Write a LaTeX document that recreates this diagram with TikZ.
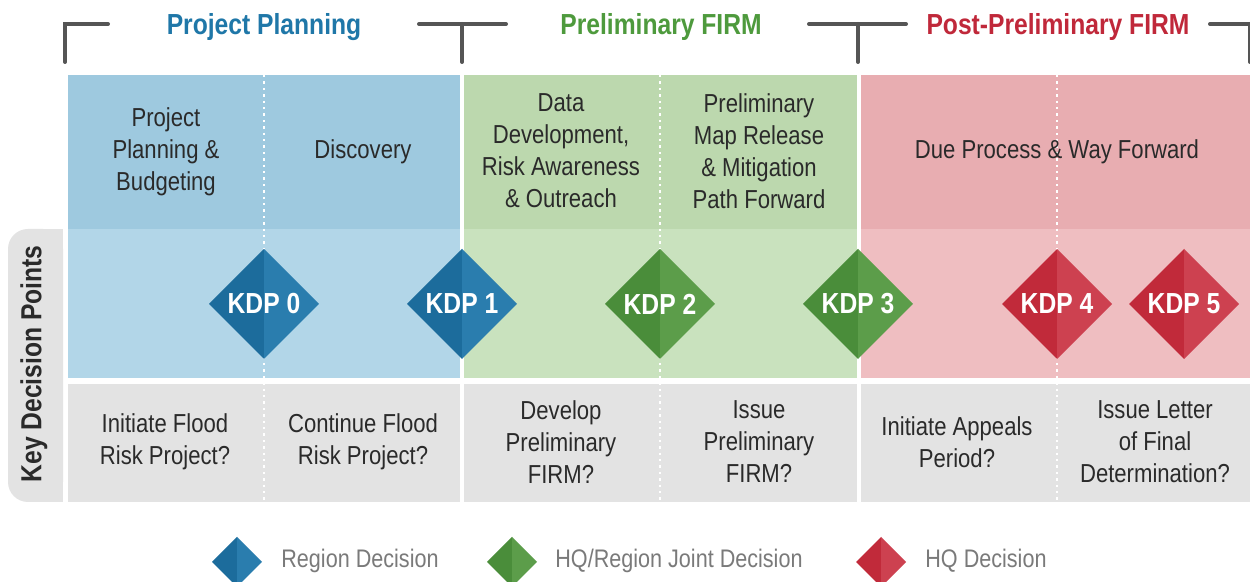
\documentclass[tikz,border=0pt]{standalone}
\usepackage{fontspec}
\setmainfont[FakeStretch=0.85]{Liberation Sans}
\definecolor{blueTop}{HTML}{9EC9DF}
\definecolor{blueBot}{HTML}{B2D6E8}
\definecolor{greenTop}{HTML}{BCD8AE}
\definecolor{greenBot}{HTML}{C9E2BE}
\definecolor{redTop}{HTML}{E8ADB1}
\definecolor{redBot}{HTML}{EFBEC1}
\definecolor{grayRow}{HTML}{E3E3E3}
\definecolor{txt}{HTML}{2A2A2A}
\definecolor{legtxt}{HTML}{7A7A7A}
\definecolor{brkc}{HTML}{555555}
\definecolor{bD}{HTML}{1C6C9C}
\definecolor{bL}{HTML}{2A7DAE}
\definecolor{gD}{HTML}{4A8D3A}
\definecolor{gL}{HTML}{5C9D4A}
\definecolor{rD}{HTML}{C12A3A}
\definecolor{rL}{HTML}{CD4150}
\definecolor{tBlue}{HTML}{1F77A8}
\definecolor{tGreen}{HTML}{4E9A3D}
\definecolor{tRed}{HTML}{C0283A}
\begin{document}
\begin{tikzpicture}[x=0.5pt,y=-0.5pt,
  brk/.style={draw=brkc,line width=2pt,line cap=round},
  dots/.style={draw=white,line width=1.3pt,dash pattern=on 1.2pt off 2pt},
  phase/.style={font=\fontsize{14.5}{17}\selectfont\bfseries,inner sep=0pt},
  body/.style={font=\fontsize{13}{16}\selectfont,text=txt,align=center,inner sep=0pt},
  kdptext/.style={font=\fontsize{14.5}{17}\selectfont\bfseries,text=white,inner sep=0pt},
  legend/.style={font=\fontsize{12.7}{15}\selectfont,text=legtxt,anchor=west,inner sep=0pt},
  pics/kdp/.style n args={4}{code={
    \fill[#1] (0,-#4) -- (-#4,0) -- (0,#4) -- cycle;
    \fill[#2] (0,-#4) -- (#4,0) -- (0,#4) -- cycle;
    \node[kdptext] (-lbl) at (0,0) {#3};
  }},
  pics/legdia/.style n args={2}{code={
    \fill[#1] (0,-25) -- (-25,0) -- (0,25) -- cycle;
    \fill[#2] (0,-25) -- (25,0) -- (0,25) -- cycle;
    \coordinate (-c) at (0,0);
  }}]
\useasboundingbox (0,0) rectangle (1250,582);
\fill[white] (0,0) rectangle (1250,582);

% brackets
\draw[brk] (108,24) -- (65,24) -- (65,62);
\draw[brk] (419,24) -- (506,24) (462,24) -- (462,62);
\draw[brk] (809,24) -- (906,24) (858,24) -- (858,62);
\draw[brk] (1210,24) -- (1252,24) (1250,24) -- (1250,62);

% phase titles
\node[phase,text=tBlue] (tpp) at (264,27) {Project Planning};
\node[phase,text=tGreen] (tpf) at (661,27) {Preliminary FIRM};
\node[phase,text=tRed] (tpost) at (1058,27) {Post-Preliminary FIRM};

% panels
\fill[blueTop] (68,75) rectangle (460,229);
\fill[blueBot] (68,229) rectangle (460,378);
\fill[greenTop] (464,75) rectangle (857,229);
\fill[greenBot] (464,229) rectangle (857,378);
\fill[redTop] (861,75) rectangle (1250,229);
\fill[redBot] (861,229) rectangle (1250,378);
\fill[grayRow] (68,384) rectangle (460,502);
\fill[grayRow] (464,384) rectangle (857,502);
\fill[grayRow] (861,384) rectangle (1250,502);

% side tab
\fill[grayRow,rounded corners=10pt] (8,229) rectangle (63,502);
\fill[grayRow] (40,229) rectangle (63,502);
\node[font=\fontsize{14.5}{17}\selectfont\bfseries,text=txt,rotate=90,inner sep=0pt] (kdp) at (34,364) {Key Decision Points};

% dotted separators
\draw[dots] (264,75) -- (264,502);
\draw[dots] (660,75) -- (660,502);
\draw[dots] (1057,75) -- (1057,502);

% activity texts
\node[body] (a1) at (166,152) {Project\\Planning \&\\Budgeting};
\node[body] (a2) at (363,152) {Discovery};
\node[body] (a3) at (561,151) {Data\\Development,\\Risk Awareness\\\& Outreach};
\node[body] (a4) at (759,151) {Preliminary\\Map Release\\\& Mitigation\\Path Forward};
\node[body] (a5) at (1057,152) {Due Process \& Way Forward};

% decision questions
\node[body] (q1) at (165,442) {Initiate Flood\\Risk Project?};
\node[body] (q2) at (363,442) {Continue Flood\\Risk Project?};
\node[body] (q3) at (561,442) {Develop\\Preliminary\\FIRM?};
\node[body] (q4) at (759,442) {Issue\\Preliminary\\FIRM?};
\node[body] (q5) at (957,442) {Initiate Appeals\\Period?};
\node[body] (q6) at (1155,442) {Issue Letter\\of Final\\Determination?};

% KDP diamonds
\pic (k0) at (264,304) {kdp={bD}{bL}{KDP 0}{55}};
\pic (k1) at (462,304) {kdp={bD}{bL}{KDP 1}{55}};
\pic (k2) at (660,304) {kdp={gD}{gL}{KDP 2}{55}};
\pic (k3) at (858,304) {kdp={gD}{gL}{KDP 3}{55}};
\pic (k4) at (1057,304) {kdp={rD}{rL}{KDP 4}{55}};
\pic (k5) at (1184,304) {kdp={rD}{rL}{KDP 5}{55}};

% legend
\pic (l1) at (237,562) {legdia={bD}{bL}};
\node[legend] (lt1) at (281,561) {Region Decision};
\pic (l2) at (512,562) {legdia={gD}{gL}};
\node[legend] (lt2) at (555,561) {HQ/Region Joint Decision};
\pic (l3) at (881,562) {legdia={rD}{rL}};
\node[legend] (lt3) at (925,561) {HQ Decision};
\end{tikzpicture}
\end{document}
